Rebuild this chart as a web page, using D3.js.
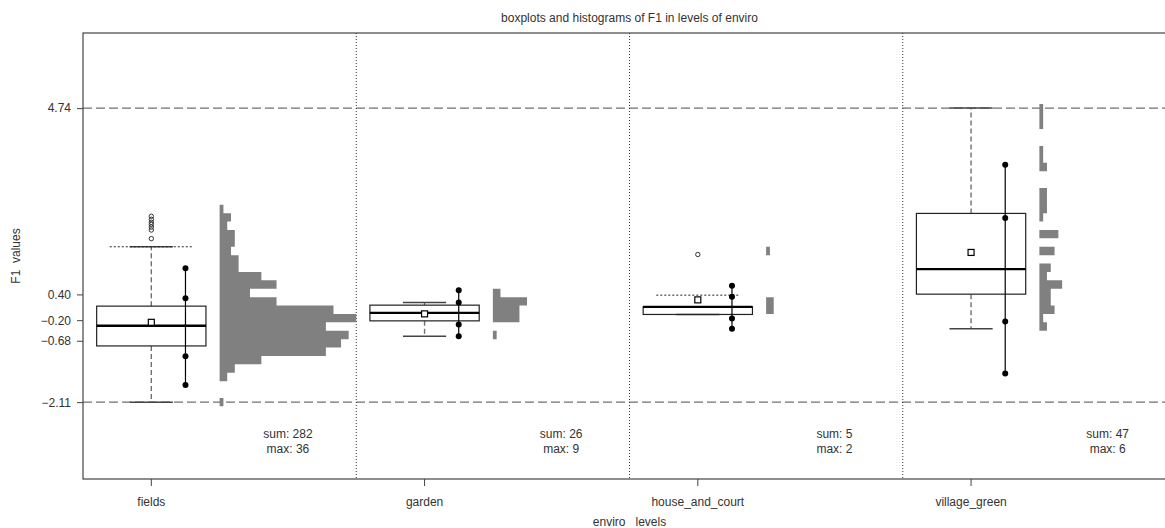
<!DOCTYPE html>
<html>
<head>
<meta charset="utf-8">
<script src="https://cdn.jsdelivr.net/npm/d3@7"></script>
<style>
  body { margin: 0; background: #fff; }
  text { font-family: "Liberation Sans", Arial, sans-serif; fill: #333; }
</style>
</head>
<body>
<script>
// data
const levels = ['fields', 'garden', 'house_and_court', 'village_green'];
const yTicks = [4.74, 0.40, -0.20, -0.68, -2.11];

const q1 = [-0.80, -0.216, -0.067, 0.406];
const med = [-0.33, -0.03, 0.11, 0.99];
const q3 = [0.127, 0.15, 0.11, 2.287];
const whiskLo = [-2.11, -0.572, -0.067, -0.402];
const whiskHi = [1.51, 0.213, 0.11, 4.74];
const fence = [1.51, null, 0.383, null];
const means = [-0.25, -0.053, 0.273, 1.378];
const outliers = [[2.22, 2.15, 2.08, 2.03, 1.97, 1.90, 1.70], [], [1.33], []];
const spreadDots = [
  [1.01, 0.31, -1.04, -1.71],
  [0.50, 0.213, -0.30, -0.572],
  [0.60, 0.343, -0.16, -0.40],
  [3.42, 2.18, -0.23, -1.44]
];

// histogram counts, bin 0 = lowest (-2.11) .. bin 35 = highest (4.74)
const histFields = [1, 0, 0, 2, 4, 11, 28, 32, 34, 28, 36, 30, 15, 8, 15, 11, 5, 5, 3, 4, 4, 2, 3, 1,
  0, 0, 0, 0, 0, 0, 0, 0, 0, 0, 0, 0];
const histGarden = [0, 0, 0, 0, 0, 0, 0, 0, 1, 0, 7, 7, 9, 2, 0, 0, 0, 0, 0, 0, 0, 0, 0, 0,
  0, 0, 0, 0, 0, 0, 0, 0, 0, 0, 0, 0];
const histHouse = [0, 0, 0, 0, 0, 0, 0, 0, 0, 0, 0, 2, 2, 0, 0, 0, 0, 0, 1, 0, 0, 0, 0, 0,
  0, 0, 0, 0, 0, 0, 0, 0, 0, 0, 0, 0];
const histVillage = [0, 0, 0, 0, 0, 0, 0, 0, 0, 2, 1, 4, 3, 3, 6, 2, 3, 0, 4, 0, 5, 0, 1, 2,
  2, 2, 0, 0, 2, 1, 1, 0, 0, 1, 1, 1];
const hists = [histFields, histGarden, histHouse, histVillage];
const dataMin = -2.11, dataMax = 4.74;

const W = 1165, H = 528;
const margin = { top: 33, left: 83, bottom: 49 };
const plotW = 1093;
const plotH = H - margin.top - margin.bottom;

const svg = d3.select('body').append('svg')
  .attr('width', W)
  .attr('height', H);

const x = d3.scaleBand()
  .domain(levels)
  .range([margin.left, margin.left + plotW]);
const bw = x.bandwidth();

const y = d3.scaleLinear()
  .domain([-3.9, 6.49])
  .range([margin.top + plotH, margin.top]);

const maxCount = d3.max(hists, h => d3.max(h));
const xc = d3.scaleLinear().domain([0, maxCount]).range([0, bw / 2]);

const nBins = histFields.length;
const binW = (dataMax - dataMin) / (nBins - 1);

// horizontal dashed lines at min / max
svg.append('g')
  .selectAll('line')
  .data([dataMax, dataMin])
  .enter()
  .append('line')
  .attr('x1', margin.left)
  .attr('x2', margin.left + plotW)
  .attr('y1', d => y(d))
  .attr('y2', d => y(d))
  .attr('stroke', '#707070')
  .attr('stroke-width', 1.4)
  .attr('stroke-dasharray', '9,4');

// dotted separators between levels
svg.append('g')
  .selectAll('line')
  .data(levels.slice(1))
  .enter()
  .append('line')
  .attr('x1', d => x(d))
  .attr('x2', d => x(d))
  .attr('y1', margin.top)
  .attr('y2', margin.top + plotH)
  .attr('stroke', '#333')
  .attr('stroke-width', 1)
  .attr('stroke-dasharray', '1,2');

// histograms: one path per level so adjacent bars have no seams
levels.forEach((lev, i) => {
  const x0 = x(lev) + bw / 2;
  const p = d3.path();
  hists[i].forEach((c, k) => {
    if (c > 0) {
      const top = y(dataMin + k * binW + binW / 2);
      const bot = y(dataMin + k * binW - binW / 2);
      p.moveTo(x0, top);
      p.lineTo(x0 + xc(c), top);
      p.lineTo(x0 + xc(c), bot);
      p.lineTo(x0, bot);
      p.closePath();
    }
  });
  svg.append('path')
    .attr('d', p.toString())
    .attr('fill', '#808080');
});

// boxplots
levels.forEach((lev, i) => {
  const cx = x(lev) + bw / 4;
  const g = svg.append('g');
  const half = bw * 0.2, cap = bw * 0.079, fh = bw * 0.152;

  // whiskers
  g.selectAll('line.whisk')
    .data([[q3[i], whiskHi[i]], [q1[i], whiskLo[i]]])
    .enter()
    .append('line')
    .attr('x1', cx).attr('x2', cx)
    .attr('y1', d => y(d[0]))
    .attr('y2', d => y(d[1]))
    .attr('stroke', '#707070')
    .attr('stroke-width', 1.4)
    .attr('stroke-dasharray', '5,3');

  g.selectAll('line.cap')
    .data([whiskHi[i], whiskLo[i]])
    .enter()
    .append('line')
    .attr('x1', cx - cap).attr('x2', cx + cap)
    .attr('y1', d => y(d)).attr('y2', d => y(d))
    .attr('stroke', '#444')
    .attr('stroke-width', 1.5);

  if (fence[i] !== null) {
    g.append('line')
      .attr('x1', cx - fh).attr('x2', cx + fh)
      .attr('y1', y(fence[i])).attr('y2', y(fence[i]))
      .attr('stroke', '#222')
      .attr('stroke-width', 1)
      .attr('stroke-dasharray', '2,2');
  }

  g.append('rect')
    .attr('x', cx - half)
    .attr('y', y(q3[i]))
    .attr('width', half * 2)
    .attr('height', y(q1[i]) - y(q3[i]))
    .attr('fill', 'none')
    .attr('stroke', '#222')
    .attr('stroke-width', 1.2);

  g.append('line')
    .attr('x1', cx - half).attr('x2', cx + half)
    .attr('y1', y(med[i])).attr('y2', y(med[i]))
    .attr('stroke', '#000')
    .attr('stroke-width', 2.4);

  g.selectAll('circle.out')
    .data(outliers[i])
    .enter()
    .append('circle')
    .attr('cx', cx)
    .attr('cy', d => y(d))
    .attr('r', 2.2)
    .attr('fill', 'none')
    .attr('stroke', '#333')
    .attr('stroke-width', 1);

  g.append('rect')
    .attr('x', cx - 3)
    .attr('y', y(means[i]) - 3)
    .attr('width', 6)
    .attr('height', 6)
    .attr('fill', '#fff')
    .attr('stroke', '#000')
    .attr('stroke-width', 1.2);

  // spread line with dots
  const dx = x(lev) + bw * 0.375;
  g.append('line')
    .attr('x1', dx).attr('x2', dx)
    .attr('y1', y(d3.max(spreadDots[i])))
    .attr('y2', y(d3.min(spreadDots[i])))
    .attr('stroke', '#000')
    .attr('stroke-width', 1.2);
  g.selectAll('circle.dot')
    .data(spreadDots[i])
    .enter()
    .append('circle')
    .attr('cx', dx)
    .attr('cy', d => y(d))
    .attr('r', 3)
    .attr('fill', '#000');

  // sum / max labels
  const tx = x(lev) + bw * 0.75;
  g.append('text')
    .attr('x', tx).attr('y', 438)
    .attr('text-anchor', 'middle')
    .style('font-size', '12px')
    .text(`sum: ${d3.sum(hists[i])}`);
  g.append('text')
    .attr('x', tx).attr('y', 453)
    .attr('text-anchor', 'middle')
    .style('font-size', '12px')
    .text(`max: ${d3.max(hists[i])}`);
});

// frame
svg.append('rect')
  .attr('x', margin.left)
  .attr('y', margin.top)
  .attr('width', plotW)
  .attr('height', plotH)
  .attr('fill', 'none')
  .attr('stroke', '#444')
  .attr('stroke-width', 1.2);

// axes
const yAxis = svg.append('g')
  .attr('transform', `translate(${margin.left},0)`)
  .call(d3.axisLeft(y).tickValues(yTicks).tickFormat(d3.format('.2f')).tickSize(6).tickPadding(6));
yAxis.select('.domain').remove();

const xAxis = svg.append('g')
  .attr('transform', `translate(${-bw / 4},${margin.top + plotH})`)
  .call(d3.axisBottom(x).tickSize(7).tickPadding(11));
xAxis.select('.domain').remove();

svg.selectAll('.tick line').attr('stroke', '#444');
svg.selectAll('.tick text')
  .style('font-size', '12px')
  .style('font-family', '"Liberation Sans", Arial, sans-serif')
  .attr('fill', '#333');

// titles
svg.append('text')
  .attr('x', margin.left + plotW / 2)
  .attr('y', 22)
  .attr('text-anchor', 'middle')
  .style('font-size', '12px')
  .text('boxplots and histograms of F1 in levels of enviro');

svg.append('text')
  .attr('x', margin.left + plotW / 2)
  .attr('y', 526)
  .attr('text-anchor', 'middle')
  .style('font-size', '12px')
  .style('white-space', 'pre')
  .text('enviro   levels');

svg.append('text')
  .attr('transform', `translate(20,${margin.top + plotH / 2}) rotate(-90)`)
  .attr('text-anchor', 'middle')
  .style('font-size', '12px')
  .style('white-space', 'pre')
  .text('F1  values');
</script>
</body>
</html>
